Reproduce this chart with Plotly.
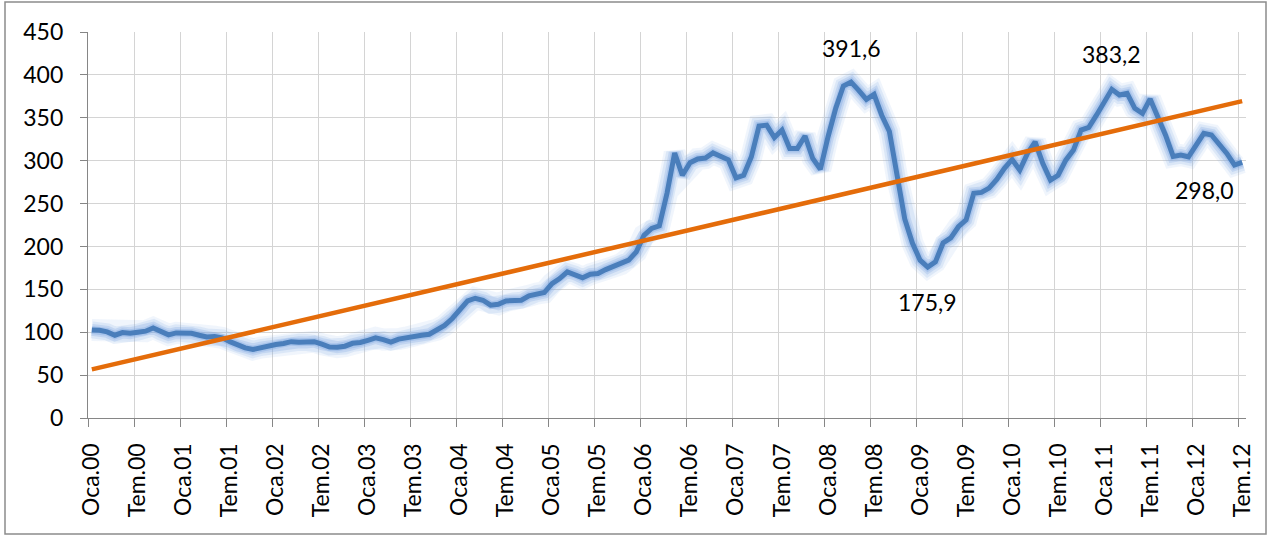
import numpy as np
import plotly.graph_objects as go

# Monthly index values, Oca.00 (Jan 2000) .. Tem.12 (Jul 2012)
values = [
    102.7, 102.3, 100.4, 96.5, 99.6, 98.8, 100.0, 101.2, 105.0, 100.4,
    96.9, 99.2, 99.6, 98.8, 96.5, 94.5, 94.9, 93.4, 89.0, 84.8,
    81.7, 79.8, 82.1, 84.0, 85.6, 86.8, 89.0, 88.3, 88.0, 89.0,
    86.0, 82.8, 82.5, 83.7, 87.1, 88.0, 90.6, 93.4, 91.4, 88.5,
    92.0, 93.8, 95.3, 96.5, 97.6, 103.0, 108.0, 116.0, 125.6, 136.5,
    139.6, 137.3, 131.5, 132.6, 136.5, 136.5, 137.3, 142.4, 145.0, 146.3,
    156.7, 162.6, 170.4, 167.6, 163.4, 167.6, 168.4, 173.0, 176.2, 179.3,
    184.0, 193.7, 213.0, 221.0, 224.0, 262.0, 309.0, 283.0, 297.6, 302.0,
    303.0, 309.0, 305.0, 301.0, 280.0, 283.0, 304.5, 340.4, 341.5, 327.0,
    335.7, 314.3, 314.3, 328.7, 302.6, 290.0, 327.9, 361.0, 387.0, 391.6,
    382.0, 371.4, 377.3, 353.0, 334.0, 280.0, 232.0, 204.0, 184.0, 175.9,
    182.0, 204.0, 210.0, 223.0, 231.0, 262.0, 263.0, 268.0, 278.0, 291.0,
    301.4, 289.0, 308.5, 322.0, 296.8, 277.3, 283.0, 300.6, 312.3, 335.7,
    338.8, 353.0, 368.7, 383.2, 376.5, 378.5, 361.0, 355.0, 372.0, 351.0,
    330.0, 305.0, 306.5, 304.5, 318.0, 331.8, 330.0, 320.0, 308.5, 295.0,
    298.0,
]

years = list(range(2000, 2013))
months_tr = ["Oca", "Şub", "Mar", "Nis", "May", "Haz", "Tem", "Ağu", "Eyl", "Eki", "Kas", "Ara"]
categories = [f"{m}.{y % 100:02d}" for y in years for m in months_tr][: len(values)]

tick_step = 6
tick_labels = [categories[i] for i in range(0, len(categories), tick_step)]

# labelled points: (index, text, xshift, yshift)
label_points = [
    (99, "391,6", 0, 34),
    (109, "175,9", 0, -35),
    (133, "383,2", 0, 35),
    (150, "298,0", -38, -28),
]

x = list(range(len(values)))
coef = np.polyfit(x, values, 1)
trend = [coef[0] * xi + coef[1] for xi in (x[0], x[-1])]

FONT = "Lato"
W, H = 1272, 537
ML, MR, MT, MB = 88, 26, 32, 119

fig = go.Figure()
# soft glow layers around the series line
for w, a in [(22, 0.12), (17, 0.18), (12, 0.28), (8, 0.4)]:
    fig.add_trace(go.Scatter(x=x, y=values, mode="lines",
                             line=dict(color=f"rgba(130,170,228,{a})", width=w),
                             hoverinfo="skip", showlegend=False))
fig.add_trace(go.Scatter(x=x, y=values, mode="lines",
                         line=dict(color="#4A7EBB", width=5),
                         showlegend=False, name="Endeks"))
fig.add_trace(go.Scatter(x=[x[0], x[-1]], y=trend, mode="lines",
                         line=dict(color="#E46C0A", width=4.5),
                         showlegend=False, name="Doğrusal"))

for idx, txt, xs, ys in label_points:
    fig.add_annotation(x=idx, y=values[idx], text=txt, showarrow=False,
                       xshift=xs, yshift=ys,
                       font=dict(family=FONT, size=23, color="#000000"))

pw = W - ML - MR
ph = H - MT - MB
fig.add_shape(type="rect", xref="paper", yref="paper",
              x0=(5 - ML) / pw, x1=(1266 - ML) / pw,
              y0=(H - MB - 534) / ph, y1=(H - MB - 2) / ph,
              line=dict(color="#8C8C8C", width=1.5), fillcolor="rgba(0,0,0,0)",
              layer="below")

fig.update_layout(
    width=W, height=H, autosize=False,
    margin=dict(l=ML, r=MR, t=MT, b=MB),
    paper_bgcolor="white", plot_bgcolor="white",
    font=dict(family=FONT, size=23, color="#000000"),
    xaxis=dict(
        range=[-0.5, len(values) - 0.5],
        tickmode="array",
        tickvals=list(range(0, len(values), tick_step)),
        ticktext=tick_labels,
        tickangle=-90,
        ticks="",
        showgrid=False,
        zeroline=False,
        showline=True, linecolor="#868686", linewidth=1.2,
        ticklabelstandoff=15,
        minor=dict(tickmode="linear", tick0=-0.5, dtick=tick_step,
                   showgrid=True, gridcolor="#D4D4D4", gridwidth=1.2,
                   ticks="outside", ticklen=8, tickcolor="#868686", tickwidth=1.2),
        tickfont=dict(family=FONT, size=23, color="#000000"),
    ),
    yaxis=dict(
        range=[0, 450], tickmode="linear", tick0=0, dtick=50,
        showgrid=True, gridcolor="#D4D4D4", gridwidth=1.2,
        zeroline=False,
        showline=True, linecolor="#868686", linewidth=1.2,
        ticks="outside", ticklen=7, tickcolor="#868686", tickwidth=1.2,
        ticklabelstandoff=12,
        tickfont=dict(family=FONT, size=23, color="#000000"),
    ),
)

fig.write_html("out.html", config={"displayModeBar": False},
               post_script="document.body.style.margin='0px';")
